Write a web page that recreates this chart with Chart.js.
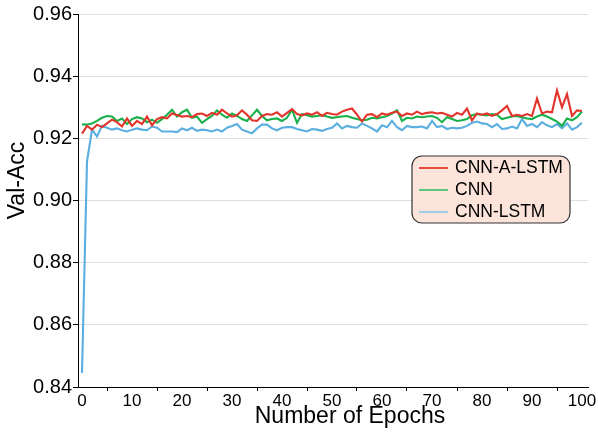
<!DOCTYPE html>
<html>
<head>
<meta charset="utf-8">
<script src="https://cdn.jsdelivr.net/npm/chart.js@4/dist/chart.umd.min.js"></script>
<style>
html, body { margin: 0; padding: 0; background: #fff; }
#wrap { width: 598px; height: 435px; position: relative; }
</style>
</head>
<body>
<div id="wrap"><canvas id="grafico"></canvas></div>
<script>
// DADOS
var seriesNames = ['CNN-A-LSTM', 'CNN', 'CNN-LSTM'];
var yTicks = [0.84, 0.86, 0.88, 0.90, 0.92, 0.94, 0.96];
var xTickLabels = [0, 10, 20, 30, 40, 50, 60, 70, 80, 90, 100];
var xTitle = 'Number of Epochs';
var yTitle = 'Val-Acc';

var cnnALstm = [
0.9215, 0.9240, 0.9228, 0.9244, 0.9236, 0.9248, 0.9260, 0.9252, 0.9238, 0.9264, 0.9240,
0.9256, 0.9246, 0.9270, 0.9242, 0.9262, 0.9268, 0.9264, 0.9280, 0.9275, 0.9270,
0.9272, 0.9268, 0.9278, 0.9280, 0.9272, 0.9282, 0.9276, 0.9292, 0.9280, 0.9270,
0.9274, 0.9290, 0.9276, 0.9258, 0.9256, 0.9272, 0.9278, 0.9276, 0.9284, 0.9270,
0.9282, 0.9294, 0.9278, 0.9274, 0.9280, 0.9276, 0.9284, 0.9272, 0.9282, 0.9278,
0.9276, 0.9286, 0.9292, 0.9296, 0.9276, 0.9254, 0.9276, 0.9278, 0.9268, 0.9280,
0.9276, 0.9282, 0.9286, 0.9272, 0.9280, 0.9276, 0.9286, 0.9278, 0.9282, 0.9284,
0.9280, 0.9282, 0.9276, 0.9270, 0.9282, 0.9276, 0.9296, 0.9258, 0.9280, 0.9276,
0.9280, 0.9272, 0.9278, 0.9290, 0.9304, 0.9272, 0.9276, 0.9272, 0.9278, 0.9272,
0.9328, 0.9280, 0.9286, 0.9284, 0.9354, 0.9300, 0.9342, 0.9272, 0.9290, 0.9288
];

var cnn = [
0.9245, 0.9244, 0.9248, 0.9256, 0.9266, 0.9272, 0.9270, 0.9256, 0.9264, 0.9246, 0.9262,
0.9268, 0.9264, 0.9252, 0.9260, 0.9250, 0.9262, 0.9276, 0.9292, 0.9270, 0.9284,
0.9292, 0.9266, 0.9270, 0.9250, 0.9262, 0.9272, 0.9290, 0.9276, 0.9266, 0.9280,
0.9272, 0.9262, 0.9256, 0.9274, 0.9292, 0.9272, 0.9258, 0.9262, 0.9264, 0.9256,
0.9266, 0.9292, 0.9250, 0.9278, 0.9274, 0.9270, 0.9272, 0.9274, 0.9270, 0.9266,
0.9268, 0.9270, 0.9272, 0.9266, 0.9262, 0.9258, 0.9260, 0.9266, 0.9264, 0.9268,
0.9272, 0.9280, 0.9290, 0.9256, 0.9266, 0.9264, 0.9270, 0.9268, 0.9270, 0.9272,
0.9266, 0.9252, 0.9268, 0.9262, 0.9256, 0.9258, 0.9262, 0.9274, 0.9278, 0.9276,
0.9274, 0.9278, 0.9276, 0.9262, 0.9266, 0.9270, 0.9272, 0.9268, 0.9264, 0.9262,
0.9270, 0.9276, 0.9270, 0.9262, 0.9254, 0.9240, 0.9264, 0.9258, 0.9268, 0.9286
];

var cnnLstm = [
0.8445, 0.9125, 0.9228, 0.9206, 0.9240, 0.9234, 0.9228, 0.9232, 0.9226, 0.9222, 0.9228,
0.9232, 0.9228, 0.9226, 0.9238, 0.9234, 0.9222, 0.9222, 0.9222, 0.9220, 0.9232,
0.9226, 0.9234, 0.9224, 0.9228, 0.9226, 0.9222, 0.9228, 0.9222, 0.9234, 0.9240,
0.9246, 0.9228, 0.9222, 0.9216, 0.9232, 0.9244, 0.9244, 0.9232, 0.9226, 0.9234,
0.9236, 0.9236, 0.9230, 0.9226, 0.9222, 0.9230, 0.9228, 0.9224, 0.9230, 0.9234,
0.9248, 0.9232, 0.9240, 0.9236, 0.9234, 0.9248, 0.9240, 0.9232, 0.9222, 0.9242,
0.9236, 0.9256, 0.9236, 0.9226, 0.9240, 0.9236, 0.9236, 0.9238, 0.9232, 0.9256,
0.9236, 0.9240, 0.9230, 0.9234, 0.9232, 0.9234, 0.9240, 0.9250, 0.9254, 0.9248,
0.9246, 0.9236, 0.9246, 0.9230, 0.9232, 0.9238, 0.9232, 0.9262, 0.9240, 0.9246,
0.9236, 0.9252, 0.9242, 0.9236, 0.9246, 0.9232, 0.9248, 0.9228, 0.9236, 0.9250
];

var lineColors = ['#e3342c', '#18b04a', '#5aaee0'];
var legendColors = ['#ea4a40', '#5cc67c', '#a3cbe8'];
var fonte = '"Liberation Sans", Arial, sans-serif';

function pontos(arr) {
  return arr.map(function (v, i) { return { x: i, y: v }; });
}

// títulos dos eixos (deslocados como no original)
var titulos = {
  id: 'titulos',
  afterDraw: function (chart) {
    var c = chart.ctx, a = chart.chartArea;
    c.save();
    c.fillStyle = '#000';
    c.font = '23px ' + fonte;
    c.textAlign = 'center';
    c.textBaseline = 'middle';
    c.fillText(xTitle, (a.left + a.right) / 2 + 17, 417);
    c.translate(18, (a.top + a.bottom) / 2 - 20);
    c.rotate(-Math.PI / 2);
    c.fillText(yTitle, 0, 0);
    c.restore();
  }
};

// legenda desenhada dentro do gráfico
var legendaBox = {
  id: 'legendaBox',
  afterDraw: function (chart) {
    var c = chart.ctx, a = chart.chartArea;
    var x = a.left + 334, y = a.top + 142, w = 158, h = 67, r = 10;
    c.save();
    c.beginPath();
    c.moveTo(x + r, y);
    c.arcTo(x + w, y, x + w, y + h, r);
    c.arcTo(x + w, y + h, x, y + h, r);
    c.arcTo(x, y + h, x, y, r);
    c.arcTo(x, y, x + w, y, r);
    c.closePath();
    c.fillStyle = '#fce4db';
    c.fill();
    c.strokeStyle = '#333';
    c.lineWidth = 1.2;
    c.stroke();
    c.font = '17.5px ' + fonte;
    c.textBaseline = 'middle';
    c.fillStyle = '#000';
    chart.data.datasets.forEach(function (ds, i) {
      var ly = y + 12 + i * 22;
      c.strokeStyle = legendColors[i];
      c.lineWidth = 2;
      c.beginPath();
      c.moveTo(x + 7, ly);
      c.lineTo(x + 36, ly);
      c.stroke();
      c.fillText(ds.label, x + 43, ly);
    });
    c.restore();
  }
};

new Chart(document.getElementById('grafico'), {
  type: 'line',
  data: {
    datasets: [
      { label: seriesNames[0], data: pontos(cnnALstm), borderColor: lineColors[0] },
      { label: seriesNames[1], data: pontos(cnn), borderColor: lineColors[1] },
      { label: seriesNames[2], data: pontos(cnnLstm), borderColor: lineColors[2] }
    ]
  },
  options: {
    responsive: true,
    maintainAspectRatio: false,
    animation: false,
    elements: {
      point: { radius: 0 },
      line: { borderWidth: 2.1, tension: 0 }
    },
    layout: { padding: { top: 14, right: 10, left: 0, bottom: 0 } },
    plugins: { legend: { display: false }, tooltip: { enabled: false } },
    scales: {
      x: {
        type: 'linear',
        min: -0.8,
        max: 101.2,
        afterBuildTicks: function (s) {
          var t = [];
          for (var v = 0; v <= 100; v += 5) t.push({ value: v });
          s.ticks = t;
        },
        afterFit: function (s) { s.height = 48; },
        border: { display: true, color: '#000', width: 1 },
        grid: {
          drawOnChartArea: false,
          drawTicks: true,
          tickLength: 4,
          tickColor: function (ctx) {
            return (ctx.tick && ctx.tick.value % 10 === 0) ? 'rgba(0,0,0,0)' : '#000';
          }
        },
        ticks: {
          autoSkip: false,
          maxRotation: 0,
          padding: 0,
          color: '#000',
          font: { family: fonte, size: 17 },
          callback: function (v) { return xTickLabels.indexOf(v) >= 0 ? String(v) : ''; }
        }
      },
      y: {
        min: 0.84,
        max: 0.96,
        afterBuildTicks: function (s) {
          s.ticks = yTicks.map(function (v) { return { value: v }; });
        },
        afterFit: function (s) { s.width = 78; },
        border: { display: true, color: '#000', width: 1 },
        grid: {
          color: '#dedede',
          lineWidth: 1,
          drawTicks: true,
          tickLength: 5,
          tickColor: '#000'
        },
        ticks: {
          padding: 1,
          color: '#000',
          font: { family: fonte, size: 20 },
          callback: function (v) { return v.toFixed(2); }
        }
      }
    }
  },
  plugins: [legendaBox, titulos]
});
</script>
</body>
</html>
